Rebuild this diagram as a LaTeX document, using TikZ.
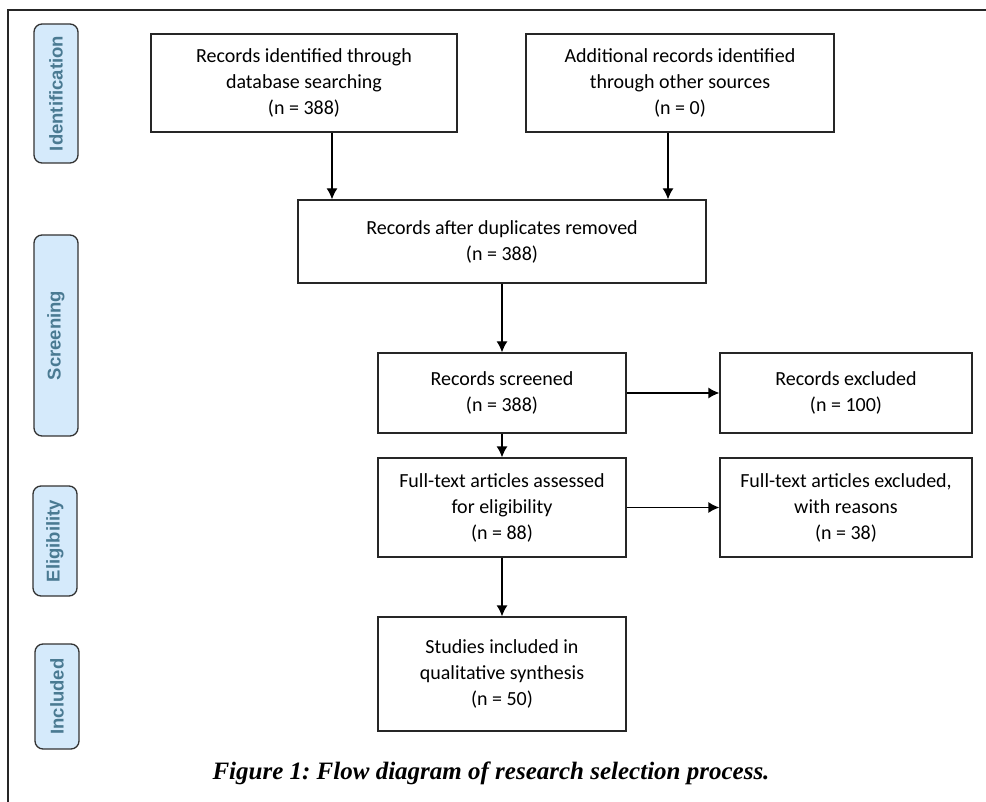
\documentclass[tikz,border=0pt]{standalone}
\usepackage{fontspec}
\newfontfamily\boxfont{Carlito}
\newfontfamily\tagfont{Liberation Sans}
\newfontfamily\capfont{Liberation Serif}
\usetikzlibrary{arrows.meta}
\definecolor{tagfill}{HTML}{D5EAFB}
\definecolor{tagtext}{HTML}{4A7A92}
\frenchspacing

\begin{document}
\begin{tikzpicture}[x=1pt, y=-1pt]
\tikzstyle{bx}=[draw=black!85, line width=1.3pt, inner sep=0pt, align=center,
  font=\boxfont\fontsize{20}{26}\selectfont]
\tikzstyle{tag}=[draw=black!80, line width=1.3pt, fill=tagfill, rounded corners=8pt,
  rotate=90, inner sep=0pt, minimum height=44pt, text=tagtext,
  font=\tagfont\bfseries\fontsize{18.5}{20}\selectfont]
\tikzstyle{arr}=[-{Latex[length=11pt,width=11pt]}, line width=1.3pt]
\useasboundingbox (0,0) rectangle (986,802);
\draw[line width=1.3pt, black!85] (986,10) -- (8,10) -- (8,802);

% phase tags
\node[tag, minimum width=139pt] (ident) at (56,93.5)  {Identification};
\node[tag, minimum width=201pt] (scr)   at (56,335.5) {Screening};
\node[tag, minimum width=110pt] (elig)  at (55,541)   {Eligibility};
\node[tag, minimum width=105pt] (incl)  at (57,696.5) {Included};

% boxes
\node[bx, minimum width=306pt, minimum height=98pt]  (db)    at (304,83)
  {Records identified through\\database searching\\(n = 388)};
\node[bx, minimum width=308pt, minimum height=98pt]  (other) at (680,83)
  {Additional records identified\\through other sources\\(n = 0)};
\node[bx, minimum width=408pt, minimum height=83pt]  (dup)   at (502,241.5)
  {Records after duplicates removed\\(n = 388)};
\node[bx, minimum width=248pt, minimum height=80pt]  (scrd)  at (502,393)
  {Records screened\\(n = 388)};
\node[bx, minimum width=252pt, minimum height=80pt]  (exc)   at (846,393)
  {Records excluded\\(n = 100)};
\node[bx, minimum width=248pt, minimum height=99pt]  (full)  at (502,507.5)
  {Full-text articles assessed\\for eligibility\\(n = 88)};
\node[bx, minimum width=252pt, minimum height=99pt]  (fexc)  at (846,507.5)
  {Full-text articles excluded,\\with reasons\\(n = 38)};
\node[bx, minimum width=248pt, minimum height=114pt] (incd)  at (502,674)
  {Studies included in\\qualitative synthesis\\(n = 50)};

\node[font=\capfont\bfseries\itshape\fontsize{25}{29}\selectfont] (cap) at (491,773)
  {Figure 1: Flow diagram of research selection process.};

% connectors
\coordinate (dbx)    at (332,0);
\coordinate (otherx) at (668,0);
\draw[arr] (db.south -| dbx) -- (dup.north -| dbx);
\draw[arr] (other.south -| otherx) -- (dup.north -| otherx);
\path[arr]
(dup)  edge (scrd)
(scrd) edge (exc)
       edge (full)
(full) edge (fexc)
       edge (incd);
\end{tikzpicture}
\end{document}
